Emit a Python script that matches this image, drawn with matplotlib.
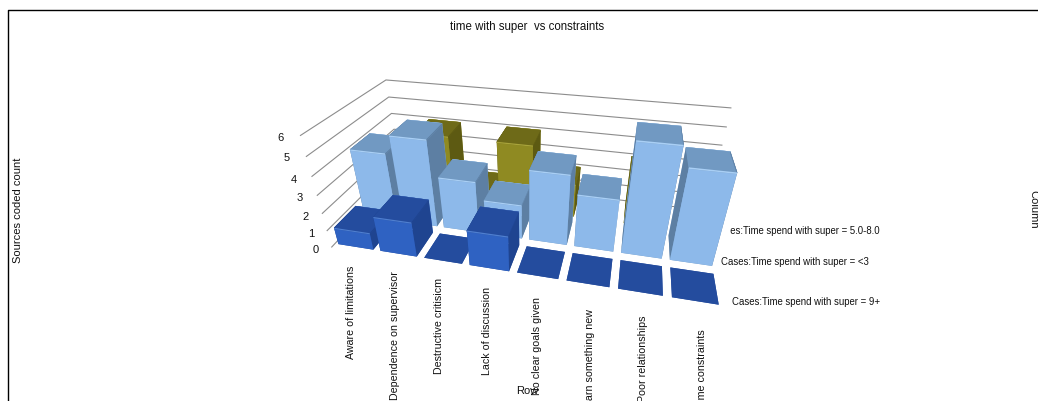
import numpy as np
import matplotlib
matplotlib.use('Agg')
import matplotlib.pyplot as plt
from matplotlib.lines import Line2D

plt.rcParams['font.family'] = ['Liberation Sans', 'DejaVu Sans']

categories = ['Aware of limitations', 'Dependence on supervisor', 'Destructive critisicm',
              'Lack of discussion', 'No clear goals given', 'Learn something new',
              'Poor relationships', 'Time constraints']
series_names = ['Cases:Time spend with super = 9+',
                'Cases:Time spend with super = <3',
                'Cases:Time spend with super = 5.0-8.0']
vals_9 = [1, 2, 0, 2, 0, 0, 0, 0]
vals_3 = [4, 5, 3, 2, 4, 3, 6, 5]
vals_5 = [0, 4, 1, 4, 2, 0, 3, 0]
z_ticks = [0, 1, 2, 3, 4, 5, 6]

W, H = 1038, 401
fig = plt.figure(figsize=(W/100, H/100), dpi=100)
fig.patch.set_facecolor('white')

# 3D axes, square box placed in pixels
S, left, bottom = 410.36, 319.19, 12.34
ax = fig.add_axes([left/W, bottom/H, S/W, S/H], projection='3d', computed_zorder=False)
ax.set_xlim(0, 8, view_margin=0)
ax.set_ylim(0, 3, view_margin=0)
ax.set_zlim(0, 6, view_margin=0)
ax.view_init(30.642, -77.232, -0.136)
ax.set_proj_type('persp', focal_length=0.2055)
ax.set_box_aspect((3.0255, 1.2317, 1.0))
ax.set_axis_off()

gap_x, gap_y = 0.083, 0.1104
# (front, top, side, highlight) per series
palettes = [('#2f62c2', '#244c9e', '#1f4490', '#4f7fd0'),
            ('#8db9ea', '#7199c2', '#5d7fa3', '#a9cff5'),
            ('#8f8a22', '#6e6a18', '#5d5a12', '#a9a43a')]
all_vals = [vals_9, vals_3, vals_5]
# far columns first, camera sits over the sixth column
col_order = [0, 1, 2, 3, 4, 7, 6, 5]

for z in z_ticks:
    ax.plot([0, 0, 8], [0, 3, 3], [z, z, z], color='#8c8c8c', lw=0.8, zorder=1, clip_on=False)

zo = 2
for row in [2, 1, 0]:
    vals = all_vals[row]
    front, top, side, hi = palettes[row]
    # face order of bar3d: bottom, top, front, back, left, right
    faces = [top, top, front, front, side, side]
    for c in col_order:
        v = vals[c]
        if v == 0 and row == 2:
            continue
        ax.bar3d(c + gap_x, row + gap_y, 0, 1 - 2*gap_x, 1 - 2*gap_y, v,
                 color=faces, shade=False, zorder=zo, clip_on=False)
        zo += 1
        if v > 0:
            # lighter strip along the top edge of the bar
            ax.bar3d(c + gap_x, row + gap_y, v - 0.07, 1 - 2*gap_x, 1 - 2*gap_y, 0.07,
                     color=[top, top, hi, hi, side, side], shade=False, zorder=zo, clip_on=False)
            zo += 1

def label(px, py, s, **kw):
    kw.setdefault('fontsize', 8.3)
    kw.setdefault('color', '#111111')
    fig.text(px/W, 1 - py/H, s, **kw)

label(527, 27, 'time with super  vs constraints', ha='center', va='center')
label(18, 210, 'Sources coded count', rotation=90, ha='center', va='center', fontsize=8.0)
label(1033, 209, 'Column', rotation=-90, ha='center', va='center', fontsize=8.0)
label(527, 391, 'Row', ha='center', va='center', fontsize=8.0)

tick_px = [(316, 250), (311, 234), (306, 217), (300, 198), (294, 180), (287, 158), (281, 138)]
for z, (px, py) in zip(z_ticks, tick_px):
    label(px, py, str(z), ha='center', va='center', fontsize=8.0)

cat_px = [(351, 266), (395, 271), (439, 278), (487, 287), (537, 297), (590, 309), (643, 316), (702, 329)]
for name, (px, py) in zip(categories, cat_px):
    label(px, py, name, rotation=90, ha='center', va='top', fontsize=7.7)

label(732, 302, series_names[0], ha='left', va='center', fontsize=6.9)
label(721, 262, series_names[1], ha='left', va='center', fontsize=6.9)
# goes behind the last bars
label(713, 231, series_names[2], ha='left', va='center', fontsize=6.9, zorder=-1)

# frame along the top and left edge
fig.add_artist(Line2D([7.5/W, 7.5/W, 1], [0, 1 - 9.5/H, 1 - 9.5/H], color='black', lw=1.0))

fig.savefig('out.png', dpi=100)
